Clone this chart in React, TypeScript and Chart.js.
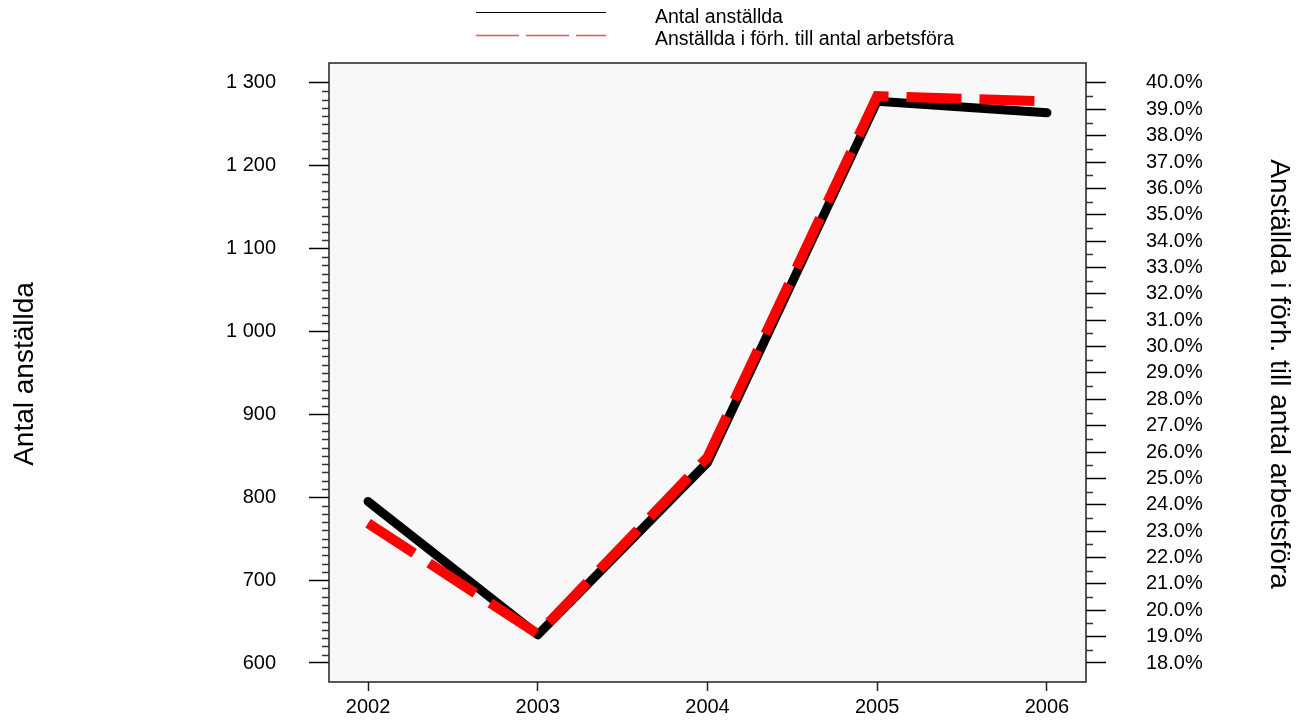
import React, { useEffect, useRef } from 'react';
import { Chart, registerables } from 'chart.js';

Chart.register(...registerables);

// ---- data ----
const years = [2002, 2003, 2004, 2005, 2006];
const employees = [795, 634, 842, 1278, 1264];
const ratioPct = [23.3, 19.1, 25.8, 39.5, 39.3];
const leftTickValues = [600, 700, 800, 900, 1000, 1100, 1200, 1300];
const rightTickValues = [18, 19, 20, 21, 22, 23, 24, 25, 26, 27, 28, 29, 30, 31, 32, 33, 34, 35, 36, 37, 38, 39, 40];
const seriesNames = ['Antal anställda', 'Anställda i förh. till antal arbetsföra'];
const leftTitle = 'Antal anställda';
const rightTitle = 'Anställda i förh. till antal arbetsföra';

const FONT = '"Liberation Sans", Arial, sans-serif';

function fmtThousands(v: number): string {
  if (v >= 1000) {
    const th = Math.floor(v / 1000);
    const rest = String(Math.round(v % 1000)).padStart(3, '0');
    return th + ' ' + rest;
  }
  return String(v);
}

const decorPlugin = {
  id: 'decor',
  beforeDraw(chart: any) {
    const { ctx, chartArea: a } = chart;
    ctx.save();
    ctx.fillStyle = '#f8f8f8';
    ctx.fillRect(a.left, a.top, a.right - a.left, a.bottom - a.top);
    ctx.restore();
  },
  afterDraw(chart: any) {
    const { ctx, chartArea: a } = chart;
    const yL = chart.scales.y;
    const yR = chart.scales.y1;
    ctx.save();
    // frame
    ctx.strokeStyle = '#222';
    ctx.lineWidth = 1.5;
    ctx.strokeRect(a.left, a.top, a.right - a.left, a.bottom - a.top);

    // minor ticks left
    ctx.strokeStyle = '#333';
    ctx.lineWidth = 1.5;
    const lmin = leftTickValues[0];
    const lmax = leftTickValues[leftTickValues.length - 1];
    for (let v = lmin; v <= lmax; v += 10) {
      if (v % 100 === 0) continue;
      const py = Math.round(yL.getPixelForValue(v)) + 0.5;
      ctx.beginPath();
      ctx.moveTo(a.left - 7, py);
      ctx.lineTo(a.left, py);
      ctx.stroke();
    }
    // minor ticks right
    const rmin = rightTickValues[0];
    const rmax = rightTickValues[rightTickValues.length - 1];
    for (let v = rmin + 0.5; v < rmax; v += 1) {
      const py = Math.round(yR.getPixelForValue(v)) + 0.5;
      ctx.beginPath();
      ctx.moveTo(a.right, py);
      ctx.lineTo(a.right + 7, py);
      ctx.stroke();
    }

    // axis titles
    ctx.fillStyle = '#000';
    ctx.textAlign = 'center';
    ctx.textBaseline = 'middle';
    ctx.font = '28px ' + FONT;
    ctx.save();
    ctx.translate(25, 374);
    ctx.rotate(-Math.PI / 2);
    ctx.fillText(leftTitle, 0, 0);
    ctx.restore();
    ctx.save();
    ctx.translate(1279, 374);
    ctx.rotate(Math.PI / 2);
    ctx.fillText(rightTitle, 0, 0);
    ctx.restore();

    // legend
    ctx.lineWidth = 1;
    ctx.strokeStyle = '#000';
    ctx.beginPath();
    ctx.moveTo(476, 12.5);
    ctx.lineTo(606, 12.5);
    ctx.stroke();
    ctx.strokeStyle = '#ff5050';
    ctx.lineWidth = 1.5;
    ctx.setLineDash([43, 7]);
    ctx.beginPath();
    ctx.moveTo(476, 35.5);
    ctx.lineTo(606, 35.5);
    ctx.stroke();
    ctx.setLineDash([]);
    ctx.font = '19.5px ' + FONT;
    ctx.textAlign = 'left';
    ctx.textBaseline = 'alphabetic';
    ctx.fillStyle = '#000';
    ctx.fillText(seriesNames[0], 655, 23);
    ctx.fillText(seriesNames[1], 655, 45);
    ctx.restore();
  },
};

export default function App() {
  const ref = useRef<HTMLCanvasElement | null>(null);
  useEffect(() => {
    if (!ref.current) return;
    const tickFont = { family: FONT, size: 20 };
    const chart = new Chart(ref.current, {
      type: 'line',
      data: {
        datasets: [
          {
            label: seriesNames[0],
            data: years.map((x, i) => ({ x, y: employees[i] })),
            yAxisID: 'y',
            borderColor: '#000',
            borderWidth: 9,
            borderCapStyle: 'round',
            borderJoinStyle: 'round',
            pointRadius: 0,
            tension: 0,
            fill: false,
            order: 2,
          },
          {
            label: seriesNames[1],
            data: years.map((x, i) => ({ x, y: ratioPct[i] })),
            yAxisID: 'y1',
            borderColor: '#ff0000',
            borderWidth: 10,
            borderDash: [55, 18],
            borderCapStyle: 'butt',
            borderJoinStyle: 'miter',
            pointRadius: 0,
            tension: 0,
            fill: false,
            order: 1,
          },
        ],
      },
      options: {
        responsive: false,
        animation: false,
        layout: { padding: { top: 63, left: 0, right: 0, bottom: 0 } },
        plugins: { legend: { display: false }, tooltip: { enabled: false }, title: { display: false } },
        scales: {
          x: {
            type: 'linear',
            min: 2001.77,
            max: 2006.23,
            afterBuildTicks: (s: any) => { s.ticks = years.map((v) => ({ value: v })); },
            afterFit: (s: any) => { s.height = 40; s.paddingLeft = 0; s.paddingRight = 0; },
            ticks: { font: tickFont, color: '#000', padding: 4, callback: (v: any) => String(v), maxRotation: 0 },
            grid: { drawOnChartArea: false, drawTicks: true, tickLength: 9, tickColor: '#222', tickWidth: 1.5 },
            border: { display: false },
          },
          y: {
            type: 'linear',
            position: 'left',
            min: 577.07,
            max: 1324.1,
            afterBuildTicks: (s: any) => { s.ticks = leftTickValues.map((v) => ({ value: v })); },
            afterFit: (s: any) => { s.width = 329; s.paddingTop = 0; s.paddingBottom = 0; },
            ticks: { font: tickFont, color: '#000', padding: 33, callback: (v: any) => fmtThousands(Number(v)) },
            grid: { drawOnChartArea: false, drawTicks: true, tickLength: 20, tickColor: '#000', tickWidth: 1.5 },
            border: { display: false },
          },
          y1: {
            type: 'linear',
            position: 'right',
            min: 17.279,
            max: 40.757,
            afterBuildTicks: (s: any) => { s.ticks = rightTickValues.map((v) => ({ value: v })); },
            afterFit: (s: any) => { s.width = 218; s.paddingTop = 0; s.paddingBottom = 0; },
            ticks: { font: tickFont, color: '#000', padding: 40, autoSkip: false, callback: (v: any) => Number(v).toFixed(1) + '%' },
            grid: { drawOnChartArea: false, drawTicks: true, tickLength: 20, tickColor: '#000', tickWidth: 1.5 },
            border: { display: false },
          },
        },
      },
      plugins: [decorPlugin],
    } as any);
    return () => chart.destroy();
  }, []);
  return (
    <div style={{ position: 'absolute', left: 0, top: 0, width: 1304, height: 722 }}>
      <canvas ref={ref} width={1304} height={722} style={{ display: 'block' }} />
    </div>
  );
}
